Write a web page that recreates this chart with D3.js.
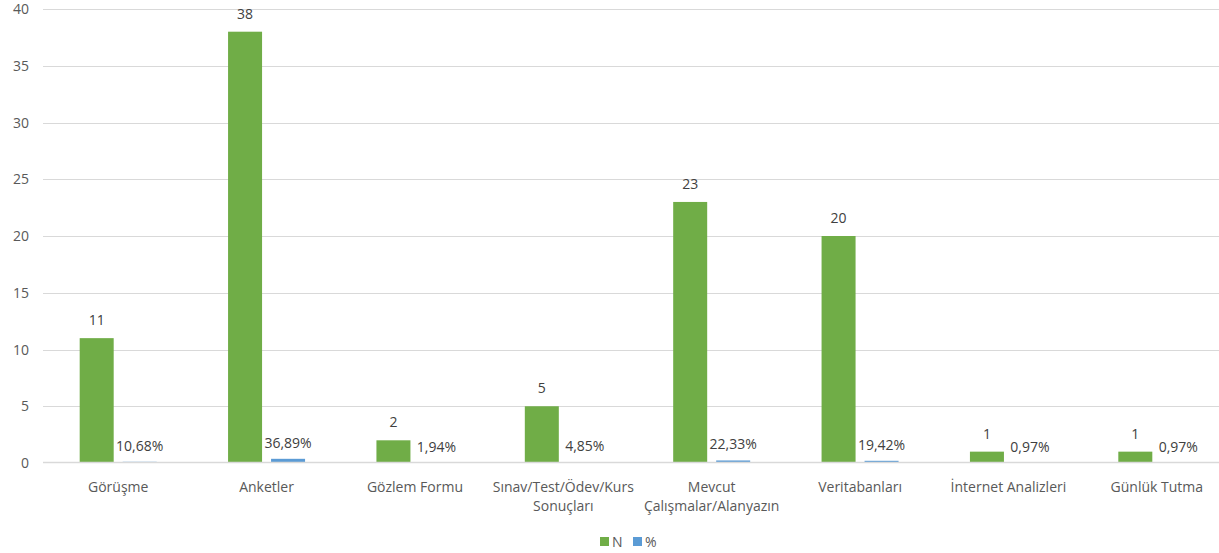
<!DOCTYPE html>
<html>
<head>
<meta charset="utf-8">
<script src="https://cdn.jsdelivr.net/npm/d3@7"></script>
<style>
  html, body { margin: 0; padding: 0; background: #fff; }
  svg { display: block; font-family: "Open Sans", "Noto Sans", sans-serif; }
</style>
</head>
<body>
<svg id="chart" width="1219" height="553"></svg>
<script>
// Categories and series
const categories = [
  "Görüşme", "Anketler", "Gözlem Formu", "Sınav/Test/Ödev/Kurs Sonuçları",
  "Mevcut Çalışmalar/Alanyazın", "Veritabanları", "İnternet Analizleri", "Günlük Tutma"
];
// wrapped category label lines
const categoryLines = [
  ["Görüşme"], ["Anketler"], ["Gözlem Formu"], ["Sınav/Test/Ödev/Kurs", "Sonuçları"],
  ["Mevcut", "Çalışmalar/Alanyazın"], ["Veritabanları"], ["İnternet Analizleri"], ["Günlük Tutma"]
];
const countN = [11, 38, 2, 5, 23, 20, 1, 1];
const percent = [10.68, 36.89, 1.94, 4.85, 22.33, 19.42, 0.97, 0.97];
const yTicks = [0, 5, 10, 15, 20, 25, 30, 35, 40];
const seriesNames = ["N", "%"];

const colors = { n: "#70ad47", p: "#5b9bd5" };
const fontSize = 14;
const svg = d3.select("#chart");

const x = d3.scaleBand().domain(categories).range([44, 1231]);
const y = d3.scaleLinear().domain([0, 40]).range([463, 9]);

// gridlines (the zero line is drawn after the bars)
svg.append("g")
  .selectAll("line")
  .data(yTicks.filter(d => d !== 0))
  .join("line")
  .attr("x1", 43).attr("x2", 1219)
  .attr("y1", d => Math.round(y(d)) + 0.5)
  .attr("y2", d => Math.round(y(d)) + 0.5)
  .attr("stroke", "#d9d9d9").attr("stroke-width", 1);

// y-axis labels
svg.append("g")
  .selectAll("text")
  .data(yTicks)
  .join("text")
  .attr("x", 29)
  .attr("y", d => y(d) + 5)
  .attr("text-anchor", "end")
  .attr("font-size", fontSize)
  .attr("fill", "#595959")
  .text(d => d);

const barW = 34, gap = 4.5;
const center = c => x(c) + x.bandwidth() / 2;

// N bars
svg.append("g")
  .selectAll("rect")
  .data(categories)
  .join("rect")
  .attr("x", (c) => center(c) - gap - barW)
  .attr("width", barW)
  .attr("y", (c, i) => y(countN[i]))
  .attr("height", (c, i) => y(0) - y(countN[i]))
  .attr("fill", colors.n);

// % bars (stored as fractions on the same axis)
svg.append("g")
  .selectAll("rect")
  .data(categories)
  .join("rect")
  .attr("x", (c) => center(c) + gap)
  .attr("width", barW)
  .attr("y", (c, i) => y(percent[i] / 100))
  .attr("height", (c, i) => y(0) - y(percent[i] / 100))
  .attr("fill", colors.p);

// zero baseline
svg.append("line")
  .attr("x1", 43).attr("x2", 1219)
  .attr("y1", Math.round(y(0)) - 0.5).attr("y2", Math.round(y(0)) - 0.5)
  .attr("stroke", "#d9d9d9").attr("stroke-width", 1.5);

// N value labels
svg.append("g")
  .selectAll("text")
  .data(categories)
  .join("text")
  .attr("x", c => center(c) - gap - barW / 2)
  .attr("y", (c, i) => y(countN[i]) - 13)
  .attr("text-anchor", "middle")
  .attr("font-size", fontSize)
  .attr("fill", "#404040")
  .text((c, i) => countN[i]);

// % value labels
const fmtPct = v => v.toFixed(2).replace(".", ",") + "%";
svg.append("g")
  .selectAll("text")
  .data(categories)
  .join("text")
  .attr("x", c => center(c) + gap + barW / 2)
  .attr("y", (c, i) => y(percent[i] / 100) - 11)
  .attr("text-anchor", "middle")
  .attr("font-size", fontSize)
  .attr("fill", "#404040")
  .text((c, i) => fmtPct(percent[i]));

// category labels
const catG = svg.append("g")
  .selectAll("text")
  .data(categories)
  .join("text")
  .attr("x", c => center(c))
  .attr("y", 492)
  .attr("text-anchor", "middle")
  .attr("font-size", fontSize)
  .attr("fill", "#595959");
catG.each(function(c, i) {
  d3.select(this).selectAll("tspan")
    .data(categoryLines[i])
    .join("tspan")
    .attr("x", center(c))
    .attr("dy", (d, j) => j === 0 ? 0 : 19)
    .text(d => d);
});

// legend
const legend = svg.append("g").attr("transform", "translate(600,537)");
const legendItems = [
  { name: seriesNames[0], color: colors.n, dx: 0 },
  { name: seriesNames[1], color: colors.p, dx: 33 }
];
legend.selectAll("rect")
  .data(legendItems)
  .join("rect")
  .attr("x", d => d.dx).attr("y", 0)
  .attr("width", 9).attr("height", 9)
  .attr("fill", d => d.color);
legend.selectAll("text")
  .data(legendItems)
  .join("text")
  .attr("x", d => d.dx + 12).attr("y", 9.5)
  .attr("font-size", fontSize)
  .attr("fill", "#595959")
  .text(d => d.name);
</script>
</body>
</html>
